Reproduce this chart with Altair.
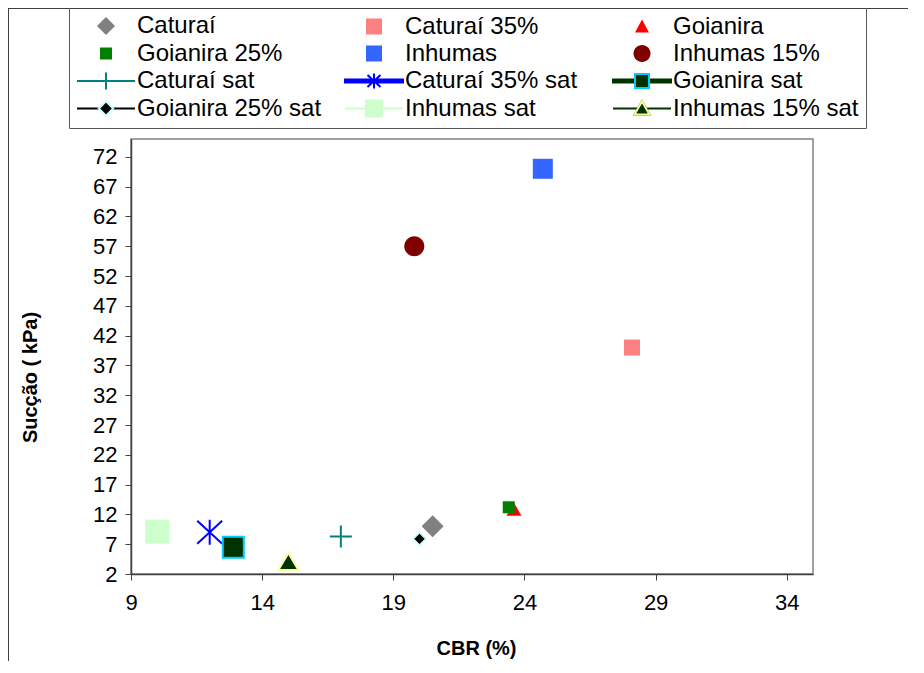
import altair as alt
import pandas as pd

# ---------------- data ----------------
series = ["Caturaí", "Caturaí 35%", "Goianira", "Goianira 25%", "Inhumas", "Inhumas 15%",
          "Caturaí sat", "Caturaí 35% sat", "Goianira sat", "Goianira 25% sat",
          "Inhumas sat", "Inhumas 15% sat"]
cbr = [20.5, 28.1, 23.6, 23.4, 24.7, 19.8, 17.0, 12.0, 12.9, 20.0, 10.0, 15.0]
succao = [10.0, 40.0, 12.8, 13.2, 70.0, 57.0, 8.3, 9.0, 6.5, 7.9, 9.1, 4.1]
x_ticks = [9, 14, 19, 24, 29, 34]
y_ticks = [2, 7, 12, 17, 22, 27, 32, 37, 42, 47, 52, 57, 62, 67, 72]

df = pd.DataFrame({"series": series, "cbr": cbr, "succao": succao})

# ---------------- symbol path helpers ----------------
def n(v):
    return f"{v:.4f}".rstrip("0").rstrip(".")

def sq(h):
    return f"M{n(-h)},{n(-h)}H{n(h)}V{n(h)}H{n(-h)}Z"

def dia(h):
    return f"M{n(-h)},0L0,{n(-h)}L{n(h)},0L0,{n(h)}Z"

def tri(w, top, bot):
    return f"M0,{n(-top)}L{n(w)},{n(bot)}L{n(-w)},{n(bot)}Z"

def circ(r):
    k = 0.5523 * r
    return (f"M{n(r)},0C{n(r)},{n(k)} {n(k)},{n(r)} 0,{n(r)}"
            f"C{n(-k)},{n(r)} {n(-r)},{n(k)} {n(-r)},0"
            f"C{n(-r)},{n(-k)} {n(-k)},{n(-r)} 0,{n(-r)}"
            f"C{n(k)},{n(-r)} {n(r)},{n(-k)} {n(r)},0Z")

def plus(h):
    return f"M{n(-h)},0H{n(h)}M0,{n(-h)}V{n(h)}"

def aster(h, dx, dy):
    return f"M0,{n(-h)}V{n(h)}M{n(-dx)},{n(-dy)}L{n(dx)},{n(dy)}M{n(-dx)},{n(dy)}L{n(dx)},{n(-dy)}"

# marker size 400 -> 1 path unit = 10 px (data points and legend symbols)
U = 10.0
HL = 29 / U  # half length of the legend line
LINE = f"M{n(-HL)},0H{n(HL)}"
ENDS = f"M{n(-HL)},0M{n(HL)},0"

def thick(t):
    return f"M{n(-HL)},{n(-t)}H{n(HL)}V{n(t)}H{n(-HL)}Z"

data_paths = [
    dia(11 / U), sq(8 / U), tri(7.5 / U, 7 / U, 6 / U), sq(6 / U), sq(10 / U), circ(10 / U),
    plus(11 / U), aster(12.5 / U, 12.5 / U, 11.5 / U), sq(10.5 / U), dia(6.5 / U),
    sq(12 / U), tri(10 / U, 8.5 / U, 8.5 / U),
]
data_fill = ["#808080", "#FF8080", "#FF0000", "#008000", "#3366FF", "#800000",
             "transparent", "transparent", "#003300", "#000000", "#CCFFCC", "#003300"]
data_stroke = ["transparent", "transparent", "transparent", "transparent", "transparent", "transparent",
               "#008080", "#0000FF", "#00CCFF", "#CCFFFF", "transparent", "#FFFF99"]

legA_paths = [
    ENDS + dia(9 / U), ENDS + sq(8 / U), ENDS + tri(7 / U, 7 / U, 6 / U), ENDS + sq(6 / U),
    ENDS + sq(8 / U), ENDS + circ(8.5 / U),
    LINE + plus(8.5 / U), thick(1.5 / U) + aster(7.5 / U, 6.5 / U, 6 / U),
    thick(1.5 / U) + sq(6 / U), LINE + dia(6 / U), LINE + sq(8 / U), LINE + tri(7.5 / U, 7 / U, 6 / U),
]
legA_fill = ["#808080", "#FF8080", "#FF0000", "#008000", "#3366FF", "#800000",
             "#008080", "#0000FF", "#003300", "#000000", "#CCFFCC", "#003300"]
legA_stroke = ["transparent", "transparent", "transparent", "transparent", "transparent", "transparent",
               "#008080", "#0000FF", "#003300", "#000000", "#CCFFCC", "#003300"]

legB_paths = legA_paths[:8] + [ENDS + sq(7 / U), ENDS + dia(7.2 / U), legA_paths[10],
                               ENDS + tri(7.5 / U, 7 / U, 6 / U)]
legB_stroke = ["transparent"] * 8 + ["#00CCFF", "#CCFFFF", "transparent", "#FFFF99"]

FONT = "Liberation Sans"

X = alt.X("cbr:Q", scale=alt.Scale(domain=[9, 35], nice=False, zero=False),
          axis=alt.Axis(values=x_ticks, title="CBR (%)", grid=False, labelFlush=False,
                        labelOverlap=False, domainColor="#404040", domainWidth=1.5,
                        tickColor="#404040", tickSize=6, labelFont=FONT, labelFontSize=22,
                        labelColor="black", labelPadding=12, titleFont=FONT, titleFontSize=20,
                        titleFontWeight="bold", titleColor="black", titleX=345, titleY=74,
                        titleBaseline="middle", titleAlign="center"))
Y = alt.Y("succao:Q", scale=alt.Scale(domain=[2, 75], nice=False, zero=False),
          axis=alt.Axis(values=y_ticks, title="Sucção ( kPa)", grid=False, labelFlush=False,
                        labelOverlap=False, domainColor="#404040", domainWidth=1.5,
                        tickColor="#404040", tickSize=6, labelFont=FONT, labelFontSize=22,
                        labelColor="black", labelPadding=8, titleFont=FONT, titleFontSize=20,
                        titleFontWeight="bold", titleColor="black", titleX=-101, titleY=238,
                        titleBaseline="middle", titleAlign="center", titleAngle=270))

points = alt.Chart(df).mark_point(size=400, strokeWidth=2, opacity=1).encode(
    x=X, y=Y,
    shape=alt.Shape("series:N", scale=alt.Scale(domain=series, range=data_paths), legend=None),
    fill=alt.Fill("series:N", scale=alt.Scale(domain=series, range=data_fill), legend=None),
    stroke=alt.Stroke("series:N", scale=alt.Scale(domain=series, range=data_stroke), legend=None),
)

common_leg = dict(orient="none", legendX=-62, legendY=-132, columns=3, direction="horizontal",
                  gridAlign="all", columnPadding=18, rowPadding=1.5, padding=7, title=None,
                  labelFont=FONT, labelFontSize=24, labelOffset=19, symbolOffset=18, labelLimit=500,
                  symbolSize=400, symbolStrokeWidth=2, symbolOpacity=1)

legA = alt.Legend(strokeColor="#595959", labelColor="black", **common_leg)
legB = alt.Legend(labelColor="black", labelOpacity=0, symbolFillColor="transparent", **common_leg)

layerA = alt.Chart(df).transform_filter("false").mark_point(size=400, strokeWidth=2, opacity=1,
                                                            filled=True).encode(
    x=X, y=Y,
    shape=alt.Shape("series:N", scale=alt.Scale(domain=series, range=legA_paths), legend=legA),
    fill=alt.Fill("series:N", scale=alt.Scale(domain=series, range=legA_fill), legend=legA),
    stroke=alt.Stroke("series:N", scale=alt.Scale(domain=series, range=legA_stroke), legend=legA),
)

layerB = alt.Chart(df).transform_filter("false").mark_point(size=400, strokeWidth=2, opacity=1).encode(
    x=X, y=Y,
    shape=alt.Shape("series:N", scale=alt.Scale(domain=series, range=legB_paths), legend=legB),
    stroke=alt.Stroke("series:N", scale=alt.Scale(domain=series, range=legB_stroke), legend=legB),
)

frame_df = pd.DataFrame({"k": [0]})
frame_top = alt.Chart(frame_df).mark_rule(color="#404040", strokeWidth=1).encode(
    x=alt.value(-123), x2=alt.value(800), y=alt.value(-130.5))
frame_left = alt.Chart(frame_df).mark_rule(color="#404040", strokeWidth=1).encode(
    x=alt.value(-122.5), y=alt.value(-131), y2=alt.value(530))

chart = alt.layer(frame_top, frame_left, points, layerA, layerB).resolve_scale(
    shape="independent", fill="independent", stroke="independent"
).resolve_legend(
    shape="independent", fill="independent", stroke="independent"
).properties(
    width=682, height=435,
    autosize=alt.AutoSizeParams(type="none"),
    padding={"left": 123, "top": 131, "right": 95, "bottom": 87},
    background="white",
).configure_view(stroke="#808080", strokeWidth=1.5)

chart.save("out.html", embed_options={"renderer": "svg", "actions": False})
